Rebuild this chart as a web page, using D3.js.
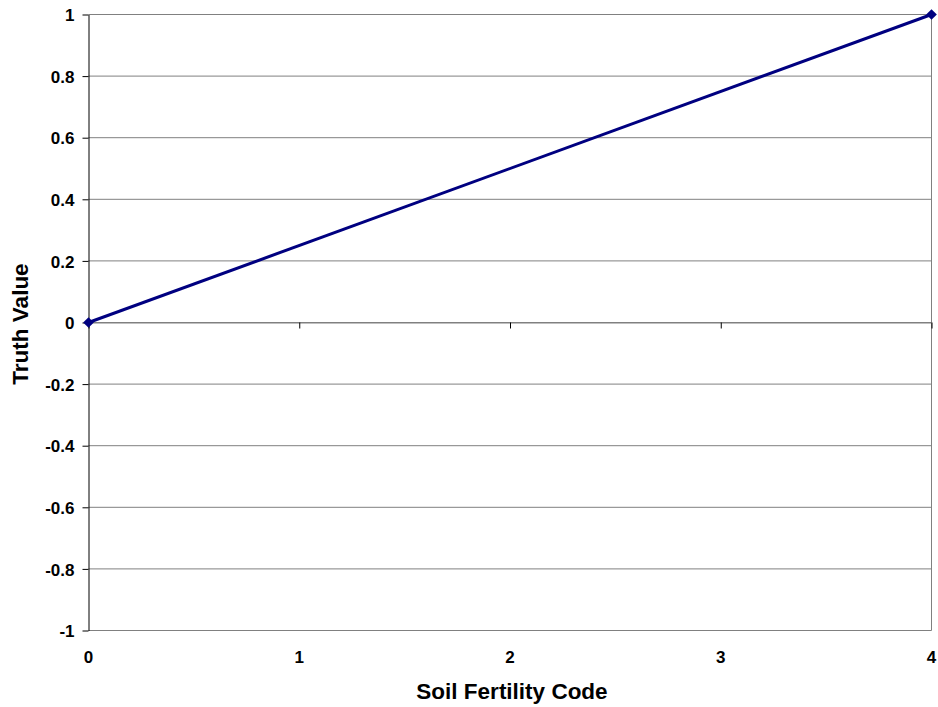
<!DOCTYPE html>
<html>
<head>
<meta charset="utf-8">
<script src="https://cdn.jsdelivr.net/npm/d3@7"></script>
<style>
  body { margin: 0; background: #fff; }
  svg { display: block; font-family: "Liberation Sans", Arial, sans-serif; }
</style>
</head>
<body>
<svg id="chart" width="938" height="707"></svg>
<script>
// Membership line for soil fertility
const fertilityCodes = [0, 4];
const truthValues = [0, 1];
const xTicks = [0, 1, 2, 3, 4];
const yTicks = [-1, -0.8, -0.6, -0.4, -0.2, 0, 0.2, 0.4, 0.6, 0.8, 1];

const svg = d3.select("#chart");
const plotLeft = 88.5, plotRight = 931.5, plotTop = 14.5, plotBottom = 630.5;
const FONT = "Liberation Sans, Arial, sans-serif";

const x = d3.scaleLinear().domain([0, 4]).range([plotLeft, plotRight]);
const y = d3.scaleLinear().domain([-1, 1]).range([plotBottom, plotTop]);

// horizontal gridlines
svg.append("g").selectAll("line").data(yTicks).join("line")
  .attr("x1", plotLeft).attr("x2", plotRight)
  .attr("y1", d => y(d)).attr("y2", d => y(d))
  .attr("stroke", "#808080").attr("stroke-width", 1);

// right border
svg.append("line").attr("x1", plotRight).attr("x2", plotRight).attr("y1", plotTop).attr("y2", plotBottom)
  .attr("stroke", "#808080").attr("stroke-width", 1);

// y axis with outward ticks
const yAxis = svg.append("g").attr("transform", `translate(${plotLeft},0)`)
  .call(d3.axisLeft(y).tickValues(yTicks).tickSize(6).tickSizeOuter(0)
    .tickFormat(d => String(+d.toFixed(1))));
yAxis.select(".domain").attr("stroke", "#000");
yAxis.selectAll(".tick line").attr("stroke", "#000");
yAxis.selectAll("text").attr("font-size", 17).attr("font-weight", "bold")
  .attr("fill", "#000").attr("x", -14).attr("dy", "0.36em").attr("font-family", FONT);

// x axis drawn at zero, tick marks pointing down
const xAxis = svg.append("g").attr("transform", `translate(0,${y(0)})`)
  .call(d3.axisBottom(x).tickValues(xTicks).tickSize(6).tickSizeOuter(0).tickFormat(""));
xAxis.select(".domain").attr("stroke", "#808080");
xAxis.selectAll(".tick line").attr("stroke", "#000");

// x tick labels along the bottom
svg.append("g").selectAll("text").data(xTicks).join("text")
  .attr("x", d => x(d)).attr("y", 663)
  .attr("text-anchor", "middle").attr("font-size", 17).attr("font-weight", "bold")
  .attr("font-family", FONT)
  .text(d => d);

// series line and diamond markers
const pts = fertilityCodes.map((c, i) => [c, truthValues[i]]);
svg.append("path").datum(pts)
  .attr("d", d3.line().x(d => x(d[0])).y(d => y(d[1])))
  .attr("fill", "none").attr("stroke", "#000080").attr("stroke-width", 3);
svg.append("g").selectAll("path").data(pts).join("path")
  .attr("transform", d => `translate(${x(d[0])},${y(d[1])})`)
  .attr("d", d3.symbol(d3.symbolDiamond2, 72)())
  .attr("fill", "#000080");

// axis titles
svg.append("text").attr("x", 512).attr("y", 699)
  .attr("text-anchor", "middle").attr("font-size", 22.5).attr("font-weight", "bold")
  .attr("font-family", FONT)
  .text("Soil Fertility Code");
svg.append("text").attr("transform", `translate(28,324) rotate(-90)`)
  .attr("text-anchor", "middle").attr("font-size", 22.5).attr("font-weight", "bold")
  .attr("font-family", FONT)
  .text("Truth Value");
</script>
</body>
</html>
